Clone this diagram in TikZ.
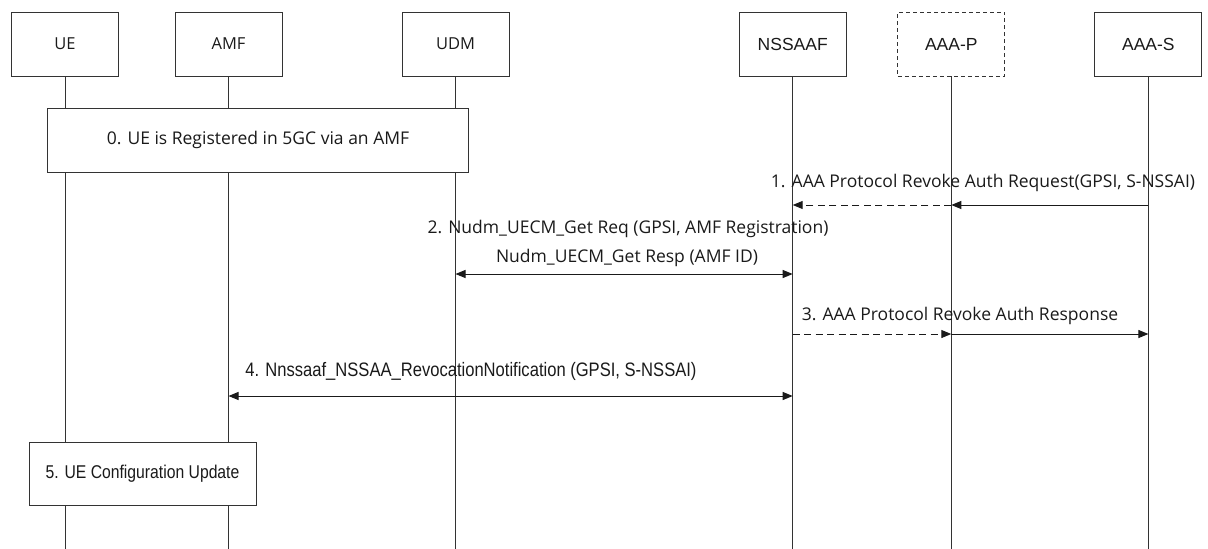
\documentclass[tikz,border=0pt]{standalone}
\usepackage{fontspec}
\setmainfont{Open Sans}
\newfontfamily\arialfont{Liberation Sans}
\newfontfamily\narrowfont[FakeStretch=0.85]{Liberation Sans}
\usepackage{tikz}
\usetikzlibrary{arrows.meta, positioning, calc}
\definecolor{ink}{HTML}{1A1A1A}
\definecolor{frame}{HTML}{333333}

\begin{document}
\begin{tikzpicture}[x=1pt, y=-1pt, every node/.style={font=\fontsize{17.5}{20}\selectfont, text=ink},
    entity/.style={draw=frame, line width=0.9pt, minimum width=107pt, minimum height=64pt, inner sep=0pt},
    life/.style={draw=frame, line width=0.9pt},
    msg/.style={draw=ink, line width=1pt, -{Triangle[length=10pt, width=8pt]}},
    dmsg/.style={msg, dash pattern=on 7pt off 4.5pt},
    both/.style={msg, {Triangle[length=10pt, width=8pt]}-{Triangle[length=10pt, width=8pt]}}]
    \useasboundingbox (0,0) rectangle (1208,549);
    \node[entity, font=\fontsize{16.5}{20}\selectfont] (ue) at (65,44) {UE};
    \node[entity, font=\fontsize{16.5}{20}\selectfont] (amf) at (228.5,44) {AMF};
    \node[entity, font=\fontsize{16.5}{20}\selectfont] (udm) at (455.5,44) {UDM};
    \node[entity, font=\arialfont\fontsize{17.5}{20}\selectfont] (nssaaf) at (792.7,44) {NSSAAF};
    \node[entity, dash pattern=on 4pt off 3pt, font=\arialfont\fontsize{17.5}{20}\selectfont] (aaap) at (951.3,44) {AAA-P};
    \node[entity, font=\arialfont\fontsize{17.5}{20}\selectfont] (aaas) at (1148.4,44) {AAA-S};
    \coordinate (bottom) at (0,549);
    \foreach \who in {ue, amf, udm, nssaaf, aaap, aaas}
      \draw[life] (\who.south) -- (\who |- bottom);
    \node[draw=frame, line width=0.9pt, fill=white, minimum width=421pt, minimum height=64pt] (reg) at (258,140) {0. UE is Registered in 5GC via an AMF};
    \coordinate (m1) at (0,205);
    \node (l1) at (983,182.5) {1. AAA Protocol Revoke Auth Request(GPSI, S-NSSAI)};
    \draw[msg] (aaas |- m1) -- (aaap |- m1);
    \draw[dmsg] (aaap |- m1) -- (nssaaf |- m1);
    \coordinate (m2) at (0,274);
    \node (l2) at (628,229) {2. Nudm\_UECM\_Get Req (GPSI, AMF Registration)};
    \node (l2b) at (627,257.5) {Nudm\_UECM\_Get Resp (AMF ID)};
    \draw[both] (udm |- m2) -- (nssaaf |- m2);
    \coordinate (m3) at (0,334);
    \node (l3) at (960,316) {3. AAA Protocol Revoke Auth Response};
    \draw[dmsg] (nssaaf |- m3) -- (aaap |- m3);
    \draw[msg] (aaap |- m3) -- (aaas |- m3);
    \coordinate (m4) at (0,396);
    \node[font=\narrowfont\fontsize{19.5}{22}\selectfont] (l4) at (471,371.5) {4. Nnssaaf\_NSSAA\_RevocationNotification (GPSI, S-NSSAI)};
    \draw[both] (amf |- m4) -- (nssaaf |- m4);
    \node[draw=frame, line width=0.9pt, fill=white, minimum width=227pt, minimum height=63pt, font=\narrowfont\fontsize{18.5}{22}\selectfont] (cfg) at (142.5,473.5) {5. UE Configuration Update};
\end{tikzpicture}
\end{document}
